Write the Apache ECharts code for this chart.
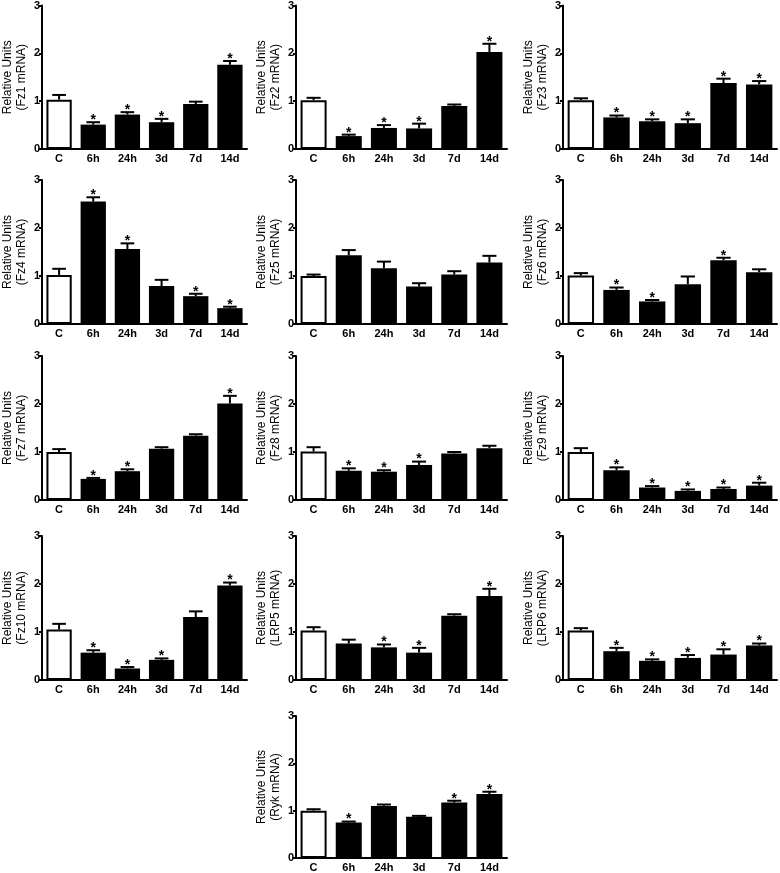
<!DOCTYPE html>
<html><head><meta charset="utf-8">
<script src="https://cdn.jsdelivr.net/npm/echarts@6/dist/echarts.min.js"></script>
<style>html,body{margin:0;padding:0;background:#fff}#c{width:780px;height:873px}</style>
</head><body><div id="c"></div>
<script>
const categories = ['C','6h','24h','3d','7d','14d'];
const yTicks = [0,1,2,3];
const panelNames = ['Fz1','Fz2','Fz3','Fz4','Fz5','Fz6','Fz7','Fz8','Fz9','Fz10','LRP5','LRP6','Ryk'];

const fz1Mean = [1.03,0.51,0.72,0.56,0.94,1.76];
const fz1Err  = [0.10,0.05,0.05,0.07,0.05,0.08];
const fz1Sig  = [0,1,1,1,0,1];
const fz2Mean = [1.02,0.27,0.44,0.43,0.90,2.03];
const fz2Err  = [0.05,0.03,0.06,0.10,0.03,0.17];
const fz2Sig  = [0,1,1,1,0,1];
const fz3Mean = [1.02,0.66,0.58,0.54,1.38,1.35];
const fz3Err  = [0.04,0.04,0.04,0.08,0.09,0.07];
const fz3Sig  = [0,1,1,1,1,1];
const fz4Mean = [1.02,2.55,1.56,0.79,0.58,0.33];
const fz4Err  = [0.13,0.09,0.12,0.13,0.05,0.03];
const fz4Sig  = [0,1,1,0,1,1];
const fz5Mean = [1.00,1.43,1.16,0.78,1.03,1.28];
const fz5Err  = [0.03,0.11,0.14,0.07,0.07,0.14];
const fz5Sig  = [0,0,0,0,0,0];
const fz6Mean = [1.01,0.71,0.47,0.83,1.33,1.08];
const fz6Err  = [0.05,0.05,0.03,0.16,0.05,0.06];
const fz6Sig  = [0,1,1,0,1,0];
const fz7Mean = [1.00,0.44,0.60,1.07,1.34,2.01];
const fz7Err  = [0.06,0.02,0.04,0.03,0.03,0.16];
const fz7Sig  = [0,1,1,0,0,1];
const fz8Mean = [1.01,0.61,0.59,0.73,0.97,1.08];
const fz8Err  = [0.09,0.05,0.03,0.07,0.03,0.05];
const fz8Sig  = [0,1,1,1,0,0];
const fz9Mean = [1.00,0.62,0.26,0.19,0.23,0.30];
const fz9Err  = [0.08,0.06,0.03,0.03,0.03,0.06];
const fz9Sig  = [0,1,1,1,1,1];
const fz10Mean = [1.05,0.57,0.24,0.42,1.31,1.97];
const fz10Err  = [0.12,0.05,0.03,0.03,0.12,0.06];
const fz10Sig  = [0,1,1,1,0,1];
const lrp5Mean = [1.03,0.76,0.68,0.57,1.34,1.75];
const lrp5Err  = [0.07,0.08,0.06,0.10,0.03,0.15];
const lrp5Sig  = [0,0,1,1,0,1];
const lrp6Mean = [1.03,0.60,0.40,0.46,0.53,0.72];
const lrp6Err  = [0.05,0.07,0.03,0.06,0.11,0.04];
const lrp6Sig  = [0,1,1,1,1,1];
const rykMean = [1.00,0.75,1.10,0.87,1.17,1.35];
const rykErr  = [0.03,0.02,0.03,0.02,0.04,0.05];
const rykSig  = [0,1,0,0,1,1];

const means = [fz1Mean,fz2Mean,fz3Mean,fz4Mean,fz5Mean,fz6Mean,fz7Mean,fz8Mean,fz9Mean,fz10Mean,lrp5Mean,lrp6Mean,rykMean];
const errs  = [fz1Err,fz2Err,fz3Err,fz4Err,fz5Err,fz6Err,fz7Err,fz8Err,fz9Err,fz10Err,lrp5Err,lrp6Err,rykErr];
const sigs  = [fz1Sig,fz2Sig,fz3Sig,fz4Sig,fz5Sig,fz6Sig,fz7Sig,fz8Sig,fz9Sig,fz10Sig,lrp5Sig,lrp6Sig,rykSig];

const FONT = '"Liberation Sans", Arial, sans-serif';
const colLeft = [34, 296, 563];
const colWidth = [213, 211, 214];
const rowTop = [5, 180, 356, 536, 716];
const rowH = 144;

const grids = [], xAxes = [], yAxes = [], series = [];
panelNames.forEach((name, p) => {
  let r = Math.floor(p / 3), c = p % 3;
  if (p === 12) { r = 4; c = 1; }
  grids.push({left: colLeft[c], top: rowTop[r], width: colWidth[c], height: rowH});
  xAxes.push({
    type: 'category', gridIndex: p, data: categories,
    axisLine: {lineStyle: {color: '#000', width: 2}},
    axisTick: {show: false},
    axisLabel: {color: '#000', fontFamily: FONT, fontWeight: 'bold', fontSize: 11, margin: 4}
  });
  yAxes.push({
    type: 'value', gridIndex: p, min: yTicks[0], max: yTicks[yTicks.length-1], interval: 1,
    name: 'Relative Units\n(' + name + ' mRNA)',
    nameLocation: 'middle', nameGap: 13, nameRotate: 90,
    nameTextStyle: {color: '#000', fontFamily: FONT, fontSize: 12, lineHeight: 14},
    axisLine: {show: true, lineStyle: {color: '#000', width: 2}},
    axisTick: {show: true, length: 3, lineStyle: {color: '#000', width: 2}},
    splitLine: {show: false},
    axisLabel: {color: '#000', fontFamily: FONT, fontWeight: 'bold', fontSize: 11, margin: 2}
  });
  series.push({
    type: 'bar', xAxisIndex: p, yAxisIndex: p, barWidth: '74%',
    data: means[p].map((v, i) => i === 0
      ? {value: v, itemStyle: {color: '#fff', borderColor: '#000', borderWidth: 2}}
      : {value: v, itemStyle: {color: '#000'}}),
    animation: false, silent: true
  });
  series.push({
    type: 'custom', xAxisIndex: p, yAxisIndex: p, z: 5, animation: false, silent: true,
    data: means[p].map((v, i) => [i, v, v + errs[p][i], sigs[p][i]]),
    renderItem: function (params, api) {
      const base = api.coord([api.value(0), api.value(1)]);
      const top = api.coord([api.value(0), api.value(2)]);
      const bw = api.size([1, 0])[0];
      const half = bw * 0.74 * 0.27;
      const children = [
        {type: 'line', shape: {x1: base[0], y1: base[1], x2: top[0], y2: top[1]}, style: {stroke: '#000', lineWidth: 2}},
        {type: 'line', shape: {x1: top[0] - half, y1: top[1], x2: top[0] + half, y2: top[1]}, style: {stroke: '#000', lineWidth: 2}}
      ];
      if (api.value(3)) {
        children.push({type: 'text', x: top[0], y: top[1] + 5,
          style: {text: '*', fill: '#000', font: 'bold 14px ' + FONT, align: 'center', verticalAlign: 'bottom'}});
      }
      return {type: 'group', children: children};
    }
  });
});

const chart = echarts.init(document.getElementById('c'), null, {renderer: 'canvas'});
chart.setOption({animation: false, grid: grids, xAxis: xAxes, yAxis: yAxes, series: series});
</script>
</body></html>
